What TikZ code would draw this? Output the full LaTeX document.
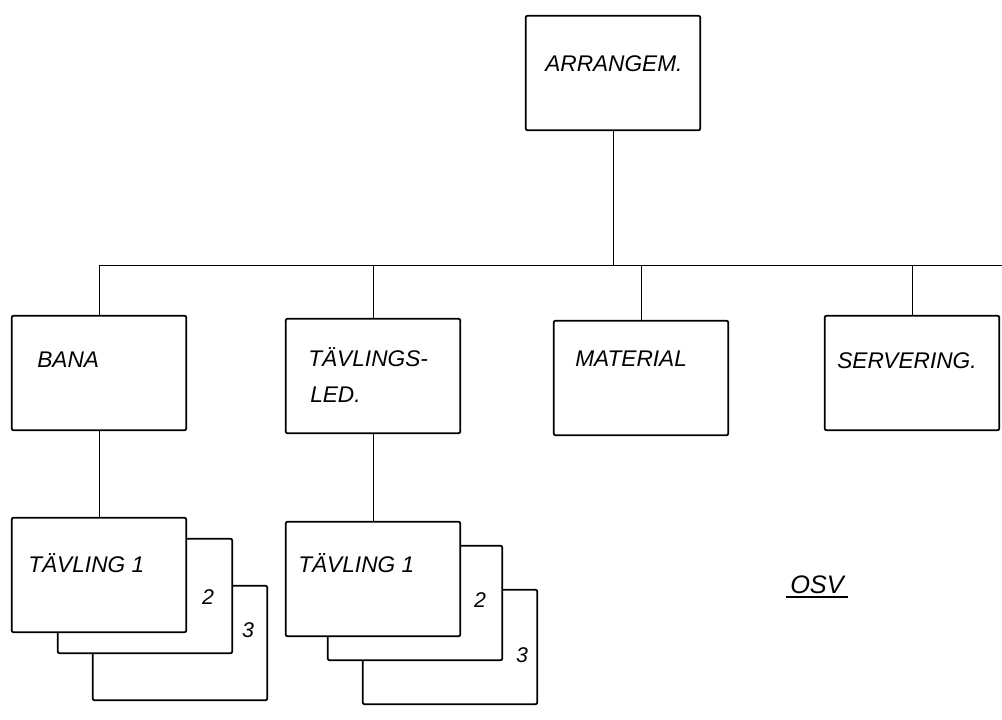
\documentclass[tikz,border=0pt]{standalone}
\usepackage{fontspec}
\setmainfont{Liberation Sans}
\usetikzlibrary{positioning}

\begin{document}
\begin{tikzpicture}[
        x=0.75pt, y=-0.75pt,
        every node/.style = {
            font=\fontsize{17}{20}\selectfont\itshape
        },
        unit/.style = {
            draw,
            fill=white,
            line width=1.3pt,
            rounded corners=1.5pt,
            minimum width=131pt,
            minimum height=86pt
        },
        title/.style = {anchor=base west, inner sep=0pt},
        num/.style = {font=\fontsize{16}{18}\selectfont\itshape},
        link/.style = {line width=0.6pt}]
        \useasboundingbox (0,0) rectangle (1002,719);

        % boxes
        \node[unit] (arr) at (613,73) {};
        \node[unit] (bana) at (99,373) {};
        \node[unit] (tavled) at (373,376) {};
        \node[unit] (mat) at (641,378) {};
        \node[unit] (serv) at (912,373) {};

        % stacks of contests
        \node[unit] (t1c) at (180,643) {};
        \node[unit] (t1b) at (145,596) {};
        \node[unit] (t1a) at (99,575) {};
        \node[unit] (t2c) at (450,647) {};
        \node[unit] (t2b) at (415,603) {};
        \node[unit] (t2a) at (373,579) {};

        % texts
        \node[title] (tarr) at (545,71) {ARRANGEM.};
        \node[title] (tbana) at (37,367) {BANA};
        \node[title] (ttav) at (308,366) {TÄVLINGS-};
        \node[title] (tled) at (310,402) {LED.};
        \node[title] (tmat) at (575,366) {MATERIAL};
        \node[title] (tserv) at (837,368) {SERVERING.};
        \node[title] (tt1) at (28,572) {TÄVLING 1};
        \node[title] (tt2) at (298,572) {TÄVLING 1};
        \node[num] (n1b) at (208,597) {2};
        \node[num] (n1c) at (248,630) {3};
        \node[num] (n2b) at (480,600) {2};
        \node[num] (n2c) at (522,655) {3};
        \node[title, font=\fontsize{19}{22}\selectfont\itshape] (osv) at (790,593) {OSV};
        \draw[line width=1.2pt] ([xshift=-3pt,yshift=-3pt]osv.base west) -- ([xshift=3pt,yshift=-3pt]osv.base east);

        % connectors
        \coordinate (busL) at (99,265);
        \coordinate (busR) at (1002,265);
        \draw[link] (busL) -- (busR);
        \draw[link] (arr.south) -- (arr.south |- busL);
        \foreach \n in {bana, tavled, mat, serv}
            \draw[link] (\n.north) -- (\n.north |- busL);
        \draw[link] (bana.south) -- (t1a.north);
        \draw[link] (tavled.south) -- (t2a.north);
    \end{tikzpicture}
\end{document}
